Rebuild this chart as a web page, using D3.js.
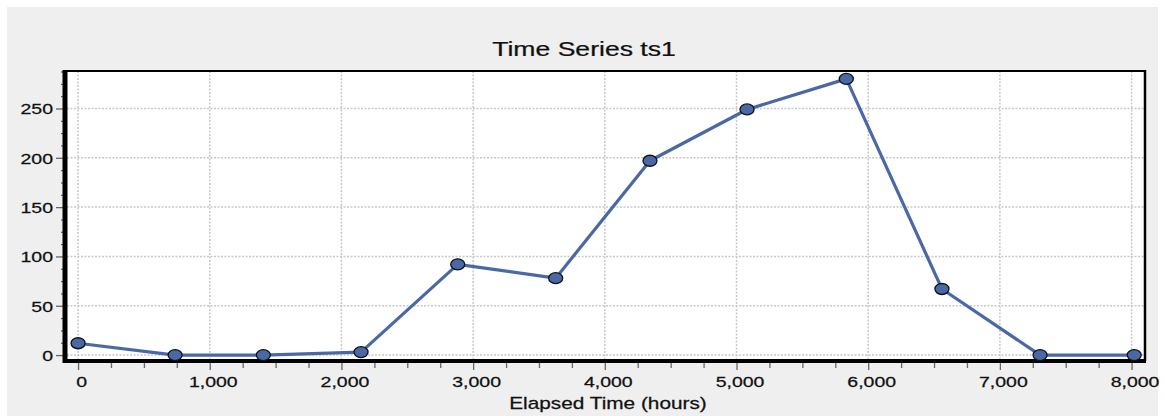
<!DOCTYPE html>
<html>
<head>
<meta charset="utf-8">
<script src="https://cdn.jsdelivr.net/npm/d3@7"></script>
<style>
  body { margin: 0; background: #ffffff; }
  text { font-family: "Liberation Sans", Arial, sans-serif; fill: #111; stroke: #111; stroke-width: 0.25px; }
</style>
</head>
<body>
<div id="chart"></div>
<script>
// data
var hours  = [0, 737, 1407, 2149, 2883, 3627, 4343, 5080, 5834, 6560, 7305, 8020];
var values = [12, 0, 0, 3, 92, 78, 197, 249, 280, 67, 0, 0];
var xTicks = [0, 1000, 2000, 3000, 4000, 5000, 6000, 7000, 8000];
var yTicks = [0, 50, 100, 150, 200, 250];
var chartTitle = "Time Series ts1";
var xTitle = "Elapsed Time (hours)";

function init(){
    var w = 1165, h = 416;
    var left = 67, right = 1145, top = 71, bottom = 361;
    var stretch = 1.3;   // the original text is drawn wide
    var blue = "#4a68a6";

    var dataset = hours.map(function(d, i){ return {t: d, v: values[i]}; });

    var xScale = d3.scaleLinear().domain([-84, 8102]).range([left, right]);
    var yScale = d3.scaleLinear().domain([-6, 288]).range([bottom, top]);

    var svg = d3.select("#chart").append("svg")
        .attr("width", w).attr("height", h);

    // grey panel
    svg.append("rect")
        .attr("x", 7).attr("y", 7)
        .attr("width", 1151).attr("height", h - 7)
        .attr("fill", "#efefef");

    // plot area
    svg.append("rect")
        .attr("x", left).attr("y", top)
        .attr("width", right - left).attr("height", bottom - top)
        .attr("fill", "#ffffff");

    // grid
    svg.append("g").selectAll("line").data(xTicks).enter().append("line")
        .attr("x1", function(d){ return xScale(d); })
        .attr("x2", function(d){ return xScale(d); })
        .attr("y1", top).attr("y2", bottom)
        .attr("stroke", "#c8c8c8").attr("stroke-width", 1.5)
        .attr("stroke-dasharray", "2,1.5");
    svg.append("g").selectAll("line").data(yTicks).enter().append("line")
        .attr("x1", left).attr("x2", right)
        .attr("y1", function(d){ return yScale(d); })
        .attr("y2", function(d){ return yScale(d); })
        .attr("stroke", "#c8c8c8").attr("stroke-width", 1.5)
        .attr("stroke-dasharray", "2,1.5");

    // minor ticks
    var xMinor = d3.range(0, 8001, 250).filter(function(d){ return d % 1000 !== 0; });
    var yMinor = d3.range(-12.5, 288, 12.5).filter(function(d){ return d % 50 !== 0 && d > -6; });

    var xAxisMinor = d3.axisBottom(xScale).tickValues(xMinor).tickFormat("").tickSize(5);
    var xAxis = d3.axisBottom(xScale).tickValues(xTicks).tickFormat(d3.format(",")).tickSize(7);
    var yAxisMinor = d3.axisLeft(yScale).tickValues(yMinor).tickFormat("").tickSize(4);
    var yAxis = d3.axisLeft(yScale).tickValues(yTicks).tickSize(9);

    var gxm = svg.append("g").attr("transform", "translate(0," + (bottom + 2) + ")").call(xAxisMinor);
    var gx = svg.append("g").attr("transform", "translate(0," + (bottom + 2) + ")").call(xAxis);
    var gym = svg.append("g").attr("transform", "translate(" + (left - 2) + ",0)").call(yAxisMinor);
    var gy = svg.append("g").attr("transform", "translate(" + (left - 2) + ",0)").call(yAxis);

    [gxm, gx, gym, gy].forEach(function(g){
        g.select(".domain").remove();
        g.selectAll(".tick line").attr("stroke", "#666").attr("stroke-width", 1.3);
    });

    gx.selectAll(".tick text")
        .attr("y", 0).attr("dy", 0)
        .attr("transform", "translate(3,24) scale(" + stretch + ",1)")
        .style("font-size", "15px");
    gy.selectAll(".tick text")
        .attr("x", 0).attr("dy", "0.36em")
        .attr("transform", "translate(-12,0) scale(" + stretch + ",1)")
        .style("font-size", "15px");

    // frame
    svg.append("line").attr("x1", left).attr("x2", right).attr("y1", top).attr("y2", top)
        .attr("stroke", "#000").attr("stroke-width", 2);
    svg.append("line").attr("x1", right).attr("x2", right).attr("y1", top - 1).attr("y2", bottom)
        .attr("stroke", "#000").attr("stroke-width", 2.5);
    svg.append("line").attr("x1", left - 2).attr("x2", right + 1).attr("y1", bottom).attr("y2", bottom)
        .attr("stroke", "#000").attr("stroke-width", 4);
    svg.append("line").attr("x1", left - 2).attr("x2", left - 2).attr("y1", top - 1).attr("y2", bottom + 2)
        .attr("stroke", "#000").attr("stroke-width", 5);

    // series line
    var line = d3.line()
        .x(function(d){ return xScale(d.t); })
        .y(function(d){ return yScale(d.v); });

    svg.append("path")
        .datum(dataset)
        .attr("d", line)
        .attr("fill", "none")
        .attr("stroke", blue)
        .attr("stroke-width", 3.2)
        .attr("stroke-linejoin", "round");

    svg.append("g").selectAll("ellipse").data(dataset).enter().append("ellipse")
        .attr("cx", function(d){ return xScale(d.t); })
        .attr("cy", function(d){ return yScale(d.v); })
        .attr("rx", 7).attr("ry", 5.5)
        .attr("fill", blue)
        .attr("stroke", "#111").attr("stroke-width", 1.3);

    // titles
    svg.append("text")
        .attr("transform", "translate(584,56) scale(1.33,1)")
        .attr("text-anchor", "middle")
        .style("font-size", "20px")
        .text(chartTitle);

    svg.append("text")
        .attr("transform", "translate(608,409) scale(" + stretch + ",1)")
        .attr("text-anchor", "middle")
        .style("font-size", "16px")
        .text(xTitle);
}
window.onload = init;
</script>
</body>
</html>
